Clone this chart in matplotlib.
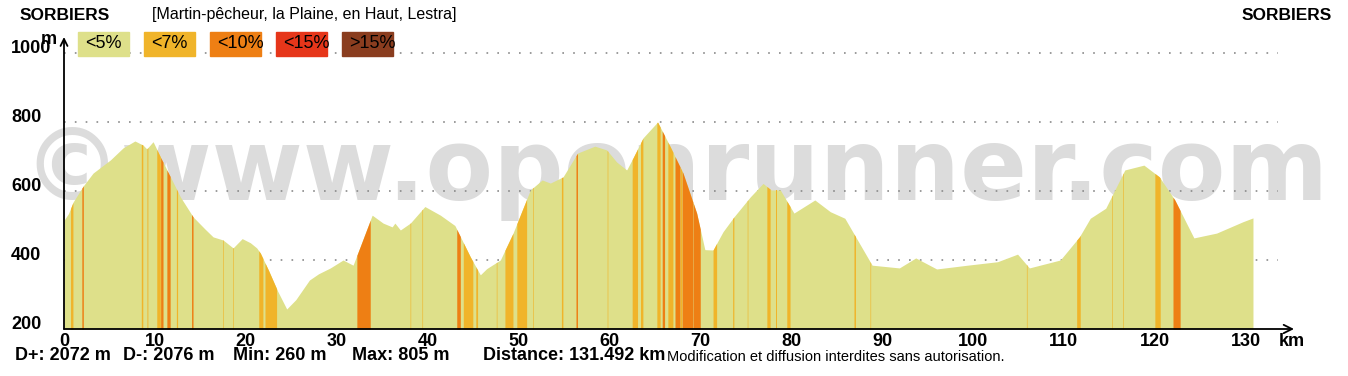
import numpy as np
import matplotlib
matplotlib.use('Agg')
import matplotlib.pyplot as plt
from matplotlib.patches import Rectangle

# elevation profile (km, m)
KM = [0, 0.5, 1.0, 2.1, 3.2, 5.1, 6.5, 7.8, 8.7, 9.1, 9.8, 10.6, 11.7, 12.8, 14.2,
      15.5, 16.4, 17.5, 18.6, 19.6, 20.5, 21.2, 21.6, 22.5, 23.5, 24.5, 25.5, 27, 28,
      29.3, 30.7, 31.8, 32.6, 33.9, 35.1, 36.1, 36.4, 37, 38.1, 39.7, 41.4, 43, 44.7,
      45.8, 46.5, 48, 49.4, 51.3, 52.6, 53.5, 54.9, 56.5, 58.4, 59.7, 60.8, 61.9, 62.6,
      63.7, 65.3, 66.7, 68.1, 69.6, 70.5, 71.4, 72.5, 73.7, 75.5, 76.9, 77.8, 78.8,
      80.3, 82.6, 84.3, 85.9, 88.9, 91.9, 93.7, 96, 99.4, 102.7, 104.9, 106.2, 109.6,
      111.7, 112.9, 114.6, 116.7, 118.8, 120.5, 122.2, 124.3, 126.8, 129.7, 130.8]
ELEV = [515, 535, 568, 614, 652, 690, 725, 745, 733, 722, 743, 699, 641, 583, 525,
        490, 467, 458, 435, 462, 450, 435, 420, 370, 310, 258, 285, 342, 360,
        377, 400, 385, 440, 530, 507, 496, 507, 487, 507, 555, 530, 500, 409,
        357, 375, 400, 478, 603, 632, 623, 641, 710, 730, 719, 684, 661, 696,
        754, 800, 728, 652, 536, 430, 429, 482, 525, 583, 622, 603, 603,
        536, 574, 540, 521, 385, 377, 406, 374, 385, 395, 417, 377, 400,
        467, 521, 550, 661, 675, 641, 574, 464, 478, 511, 522]

# steeper sections: start km, end km, slope class (1 = <7%, 2 = <10%)
STEEP_START = [0.7, 1.95, 8.5, 9.1, 10.2, 10.6, 11.3, 12.35, 14.0, 17.45, 18.55, 21.4,
               22.1, 32.2, 38.05, 39.35, 43.2, 43.9, 45.3, 47.55, 48.5, 49.8, 51.55,
               54.7, 56.3, 59.75, 62.5, 63.4, 65.2, 65.8, 66.4, 67.2, 67.8, 68.0, 69.2,
               71.4, 73.55, 75.15, 77.3, 78.35, 79.5, 86.9, 88.65, 105.85, 111.4,
               115.25, 116.45, 120.0, 122.0]
STEEP_END = [1.0, 2.15, 8.7, 9.25, 10.6, 10.9, 11.7, 12.5, 14.2, 17.55, 18.65, 21.9,
             23.4, 33.7, 38.15, 39.45, 43.6, 45.0, 45.5, 47.65, 49.4, 50.9, 51.65,
             54.9, 56.5, 59.85, 63.1, 63.7, 65.6, 66.1, 67.0, 67.8, 68.0, 69.2, 70.0,
             71.8, 73.7, 75.25, 77.7, 78.45, 79.9, 87.1, 88.75, 105.95, 111.8,
             115.35, 116.55, 120.6, 122.8]
STEEP_CLASS = [1, 2, 1, 1, 1, 2, 2, 1, 2, 1, 1, 1,
               1, 2, 1, 1, 2, 1, 1, 1, 1, 1, 1,
               1, 2, 1, 1, 1, 1, 2, 1, 2, 1, 2, 2,
               1, 1, 1, 1, 1, 1, 1, 1, 1, 1,
               1, 1, 1, 2]

LEGEND_LABELS = ['<5%', '<7%', '<10%', '<15%', '>15%']
COLORS = ['#dee08a', '#f0b42a', '#ee7f14', '#e6361a', '#8a3d1f']

Y_TICKS = [200, 400, 600, 800, 1000]
X_TICKS = list(range(0, 131, 10))

STATS = ['D+: 2072 m', 'D-: 2076 m', 'Min: 260 m', 'Max: 805 m', 'Distance: 131.492 km']

plt.rcParams['font.family'] = ['Liberation Sans', 'DejaVu Sans']

W, H = 1348, 376
fig = plt.figure(figsize=(W / 100, H / 100), dpi=100)

# axes in pixel terms: x=0 at 64 px, 9.09 px per km; 200 m at 329 px, 0.345 px per m
x0, x1, yb, yt = 64, 1294, 329, 37
ax = fig.add_axes([x0 / W, 1 - yb / H, (x1 - x0) / W, (yb - yt) / H])
ax.set_xlim(0, (x1 - x0) / 9.09)
ax.set_ylim(200, 200 + (yb - yt) / 0.345)
ax.set_facecolor('none')
for s in ax.spines.values():
    s.set_visible(False)

# watermark behind everything
fig.text(675 / W, 1 - 200 / H, '©www.openrunner.com', ha='center', va='baseline',
         fontsize=71, fontweight='bold', family='DejaVu Sans', color='#dcdcdc', zorder=-5)

# dotted grid
for v in Y_TICKS[1:]:
    ax.plot([0, (1278 - x0) / 9.09], [v, v], color='#8a8a8a', lw=1.2,
            linestyle=(0, (1, 5.5)), zorder=1)

xs = np.linspace(0, KM[-1], 4000)
ys = np.interp(xs, KM, ELEV)
ax.fill_between(xs, 200, ys, color=COLORS[0], lw=0, zorder=2)
for a, b, c in zip(STEEP_START, STEEP_END, STEEP_CLASS):
    m = (xs >= a) & (xs <= b)
    ax.fill_between(xs[m], 200, ys[m], color=COLORS[c], lw=0, zorder=3)

# axes with arrow heads
ax.annotate('', xy=(1, 0), xytext=(0, 0), xycoords='axes fraction',
            arrowprops=dict(arrowstyle='->,head_length=0.6,head_width=0.3',
                            color='black', lw=1.3, shrinkA=0, shrinkB=0), zorder=5)
ax.annotate('', xy=(0, 1), xytext=(0, 0), xycoords='axes fraction',
            arrowprops=dict(arrowstyle='->,head_length=0.5,head_width=0.25',
                            color='black', lw=1.3, shrinkA=0, shrinkB=0), zorder=5)

ax.set_xticks(X_TICKS, [str(t) for t in X_TICKS])
ax.set_yticks(Y_TICKS, [str(t) for t in Y_TICKS])
ax.tick_params(axis='x', length=0, pad=3, labelsize=13)
ax.tick_params(axis='y', length=0, pad=38, labelsize=13)
for lab in ax.get_xticklabels() + ax.get_yticklabels():
    lab.set_fontweight('bold')
for lab in ax.get_yticklabels():
    lab.set_horizontalalignment('left')
    lab.set_verticalalignment('baseline')

fig.text(49 / W, 1 - 40 / H, 'm', ha='center', va='center', fontsize=13, fontweight='bold')
fig.text(1292 / W, 1 - 341 / H, 'km', ha='center', va='center', fontsize=13, fontweight='bold')

# header
fig.text(20 / W, 1 - 15 / H, 'SORBIERS', ha='left', va='center', fontsize=12.5, fontweight='bold')
fig.text(1332 / W, 1 - 15 / H, 'SORBIERS', ha='right', va='center', fontsize=12.5, fontweight='bold')
fig.text(152 / W, 1 - 15 / H, '[Martin-pêcheur, la Plaine, en Haut, Lestra]',
         ha='left', va='center', fontsize=11.5)

# slope legend
for i, (lab, col) in enumerate(zip(LEGEND_LABELS, COLORS)):
    left = 78 + 66 * i
    fig.patches.append(Rectangle((left / W, 1 - 56 / H), 51 / W, 24 / H,
                                 transform=fig.transFigure, color=col, zorder=6))
    fig.text((left + 7) / W, 1 - 44 / H, lab, ha='left', va='center', fontsize=13, zorder=7)

# stats row
for s, xp in zip(STATS, [15, 123, 233, 352, 483]):
    fig.text(xp / W, 1 - 356 / H, s, ha='left', va='center', fontsize=13, fontweight='bold')
fig.text(667 / W, 1 - 357 / H, 'Modification et diffusion interdites sans autorisation.',
         ha='left', va='center', fontsize=10.5)

fig.savefig('out.png', dpi=100)
